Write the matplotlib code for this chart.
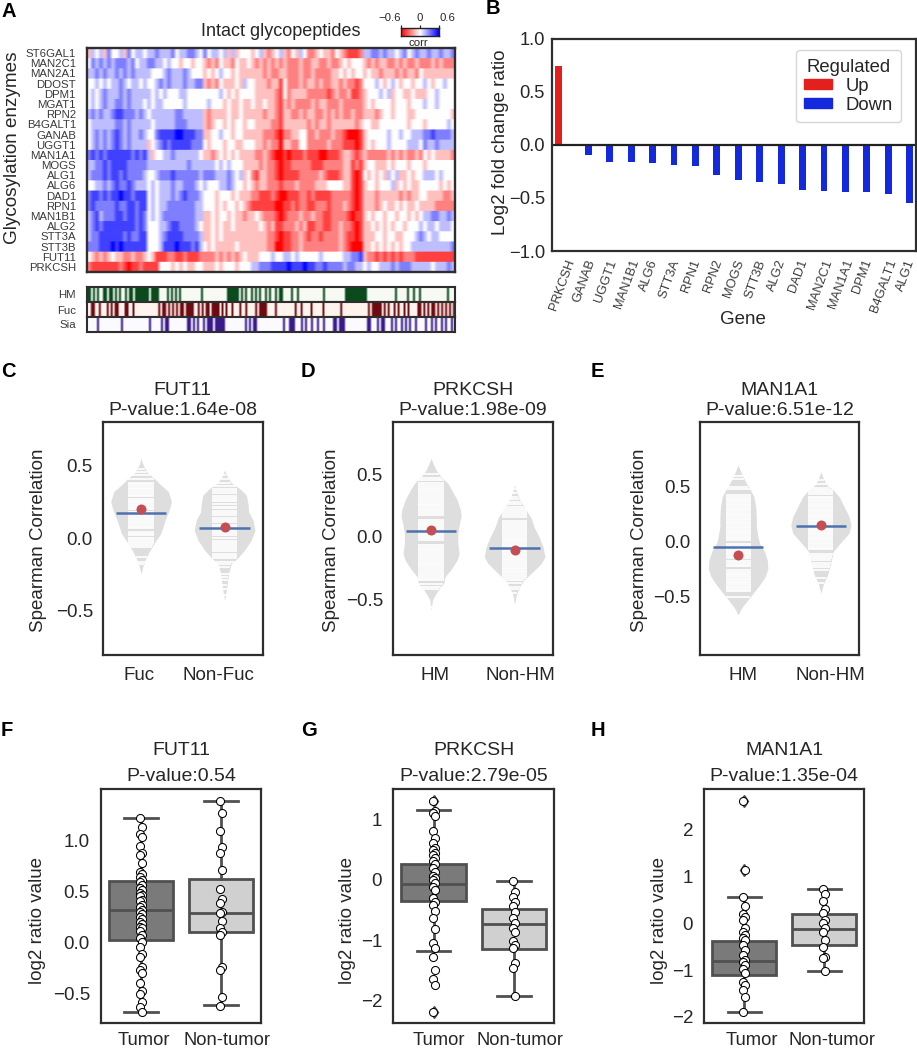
#!/usr/bin/python3
"""
Module to redraw the glycosylation enzyme figure: heatmap, bar chart,
violin panels and box panels.
"""
import numpy as np
import matplotlib
matplotlib.use('Agg')
import matplotlib.pyplot as plt
from matplotlib.colors import LinearSegmentedColormap
from matplotlib.patches import Patch

W, H = 917, 1050
plt.rcParams['font.family'] = ['Liberation Sans', 'DejaVu Sans']
plt.rcParams['text.color'] = '#262626'
plt.rcParams['axes.labelcolor'] = '#262626'
plt.rcParams['xtick.color'] = '#262626'
plt.rcParams['ytick.color'] = '#262626'

# Panel A: digit 0 is the strongest blue, 4 white, 8 the strongest red.
# The six groups of each row are the six blocks of columns in the heatmap.
enzymes = ['ST6GAL1', 'MAN2C1', 'MAN2A1', 'DDOST', 'DPM1', 'MGAT1', 'RPN2',
           'B4GALT1', 'GANAB', 'UGGT1', 'MAN1A1', 'MOGS', 'ALG1', 'ALG6',
           'DAD1', 'RPN1', 'MAN1B1', 'ALG2', 'STT3A', 'STT3B', 'FUT11',
           'PRKCSH']
block_sizes = [15, 14, 12, 23, 5, 23]
heat_rows = [
    '534352443524334 33233324332234 243343535444 54356543564534665455645 67776 33223233432432332332332',
    '423232322232433 22334344544544 565645564554 56565656566656655665665 45444 56565566565665666565666',
    '332323323232333 34443233323444 545434454555 55565665566656656666554 54544 54556555656556455555555',
    '443434332343343 44323233323322 565645554534 45556557466656556566556 56676 44434543454454434544344',
    '434323332323333 34343444334444 444434545444 45555567465555666667656 65776 54443435445545554434444',
    '434323322323334 34334444434444 434445455455 45545567565666656556665 66666 54544445444544434434444',
    '323233211222323 43333332233333 565555455455 55565567556656556656565 66566 55565445444554444444445',
    '433333322323333 34333332223333 565445454454 45555667555555656556555 55565 44554444444544454444434',
    '432323212323323 44211110011122 554434454455 55566678665544665666566 78887 54444434434433322122223',
    '432323212323333 54321211111222 454445445544 45565668556644666665666 77787 54544434444333423323333',
    '212121111112121 35443323333334 556545454555 56656788787776777887776 55676 56666656565665645455556',
    '332212111122222 33333333332333 333434344455 55656678776666677766666 55767 54455545444544454444444',
    '322212112122223 44322212222223 222333234354 67556678777766666567776 55787 45454534355454433343444',
    '443323212212333 43433323322234 344433234454 56556667666566665554444 55787 54454443545455444445454',
    '211212110112111 43433323212223 444544454555 66777678877766767777666 66787 55565555565655445555665',
    '212222212211211 43433222222233 444545445456 77777788776766776667666 56787 55565455454554555566666',
    '321322211211212 43432222222233 554544545565 54566678766656656677666 67877 54544544544545433223323',
    '321211111111212 44433211222234 554545545555 55456577666565776677665 66787 55454545445444343343334',
    '322111111212211 44432111122223 554545555555 55556678776656766766665 67787 55544544554443234334444',
    '222111010111111 44431110111213 454555554555 55556688776656666666665 67888 55454545454433333333332',
    '456565455665665 45777667767776 666565656545 55444344334344444344444 33221 56676767676667777777777',
    '677777776787767 77744454545544 555454445444 33222111101110112212222 32233 43443332322233333433323',
]

# Panel A tracks: 1 is a dark stripe, 0 the pale background, 2 px per column.
hm_flags = ('11010100110110101001011' '0' '1111111' '0' '1111' '0000' '1010101'
            '0000000000' '1' '000000000000' '111111' '0101001010100101001011'
            '0000100100000000000010000000000' '11111111111'
            '00000000000000100000100100100000000000001000')
fuc_flags = ('001100100010101100011001' '000000000000' '101101010101'
             '10111100' '1010110' '111' '10101'
             '0010001001' '0000' '10' '1111' '0000' '1' '000000000' '1' '00'
             '1' '0000' '1' '00000' '1' '00000000' '1' '000000000000'
             '0101' '111' '1010' '100101001010000' '1101' '0' '10110'
             '101010101')
sia_flags = ('00000100000000000100000000000001' '00000' '1011' '000000000'
             '11' '0' '1' '0' '1' '00' '1' '0' '111011111' '0000000000'
             '1010110' '000000000000' '1' '00' '111' '000' '1' '0' '1' '00'
             '1' '00' '1' '00' '1' '0000' '110111' '00000000000' '110' '00'
             '10110' '00' '1010010101001' '0000' '100101001010010')

# Panel B
bar_genes = ['PRKCSH', 'GANAB', 'UGGT1', 'MAN1B1', 'ALG6', 'STT3A', 'RPN1',
             'RPN2', 'MOGS', 'STT3B', 'ALG2', 'DAD1', 'MAN2C1', 'MAN1A1',
             'DPM1', 'B4GALT1', 'ALG1']
bar_values = [0.74, -0.10, -0.16, -0.16, -0.17, -0.19, -0.20, -0.285, -0.335,
              -0.35, -0.365, -0.425, -0.435, -0.44, -0.445, -0.465, -0.545]

# Panel C violins: density outline as value and half width
c1_vals = [.557, .518, .483, .449, .414, .380, .322, .253, .195, .126, .034,
           -.035, -.093, -.15, -.196, -.247]
c1_width = [0, .016, .048, .084, .16, .216, .328, .364, .336, .288, .236,
            .156, .096, .048, .02, 0]
c1_sticks = [.48, .46, .44, .41, .385, .375, .36, .35, .34, .325, .31, .30,
             .29, .275, .26, .25, .24, .225, .21, .20, .185, .17, .16, .15,
             .135, .12, .105, .09, .08, .07, .045, .03, .02, .005, -.005,
             -.015, -.03, -.045, -.06, -.13, -.16, -.18]
c2_vals = [.472, .426, .380, .345, .299, .241, .184, .126, .057, -.012, -.081,
           -.139, -.173, -.242, -.335, -.427]
c2_width = [0, .032, .088, .18, .26, .28, .288, .34, .364, .32, .24, .152,
            .08, .048, .028, 0]
c2_sticks = [.44, .41, .385, .36, .34, .325, .31, .295, .28, .265, .255, .235,
             .22, .21, .19, .175, .16, .14, .125, .11, .095, .08, .065, .05,
             .035, .02, 0, -.015, -.03, -.045, -.06, -.075, -.09, -.105, -.12,
             -.135, -.16, -.18, -.2, -.245, -.265, -.29, -.32, -.35, -.39]

# Panel D violins
d1_vals = [.627, .587, .534, .48, .427, .374, .294, .214, .16, .107, .027,
           -.053, -.133, -.186, -.253, -.32, -.373, -.413, -.466, -.506, -.586]
d1_width = [0, .024, .06, .12, .2, .248, .312, .352, .36, .34, .32, .32, .336,
            .312, .248, .168, .152, .1, .048, .016, 0]
d1_sticks = [.50, .47, .45, .43, .415, .40, .385, .37, .355, .34, .325, .31,
             .295, .28, .265, .25, .235, .22, .205, .19, .175, .135, .12, .105,
             .09, .075, .06, .045, .03, .015, 0, -.01, -.025, -.065, -.08,
             -.095, -.11, -.125, -.14, -.155, -.17, -.185, -.2, -.215, -.23,
             -.245, -.26, -.275, -.29, -.305, -.32, -.335, -.35, -.38, -.40,
             -.42, -.56, -.575]
d2_vals = [.414, .36, .307, .254, .20, .147, .08, 0, -.08, -.16, -.213, -.28,
           -.346, -.40, -.466, -.546]
d2_width = [0, .024, .052, .1, .152, .2, .232, .292, .34, .364, .32, .22, .112,
            .06, .02, 0]
d2_sticks = [.38, .35, .32, .30, .28, .26, .24, .22, .205, .19, .17, .155,
             .125, .11, .095, .08, .06, .045, .03, .015, 0, -.015, -.03, -.045,
             -.06, -.075, -.09, -.105, -.115, -.13, -.145, -.16, -.175, -.19,
             -.205, -.22, -.235, -.25, -.26, -.275, -.285, -.30, -.315, -.33,
             -.345, -.37, -.40, -.42, -.45]

# Panel E violins
e1_vals = [.697, .651, .591, .53, .47, .409, .318, .227, .136, .045, -.015,
           -.091, -.167, -.243, -.318, -.394, -.47, -.546, -.606, -.667]
e1_width = [0, .024, .06, .1, .148, .192, .212, .22, .22, .24, .26, .32, .352,
            .36, .328, .26, .18, .1, .04, 0]
e1_sticks = [.60, .57, .50, .48, .42, .405, .39, .375, .36, .345, .33, .315,
             .30, .285, .27, .255, .24, .225, .21, .195, .18, .165, .15, .135,
             .12, .105, .09, .075, .06, .045, .03, .015, -.025, -.04, -.055,
             -.07, -.085, -.10, -.115, -.13, -.145, -.18, -.195, -.21, -.225,
             -.26, -.275, -.29, -.305, -.32, -.335, -.35, -.365, -.38, -.395,
             -.41, -.425, -.44, -.45, -.50]
e2_vals = [.636, .576, .515, .47, .409, .318, .227, .151, .076, 0, -.091,
           -.152, -.227, -.303, -.379, -.47]
e2_width = [0, .028, .072, .148, .22, .28, .34, .364, .34, .248, .148, .132,
            .108, .08, .032, 0]
e2_sticks = [.56, .52, .49, .47, .45, .43, .41, .395, .38, .365, .35, .335,
             .32, .305, .29, .275, .26, .245, .23, .215, .20, .185, .17, .155,
             .14, .125, .11, .095, .08, .065, .05, .035, .02, .005, -.01,
             -.025, -.04, -.055, -.07, -.11, -.13, -.15, -.17, -.19, -.21,
             -.23, -.26, -.33, -.38]

# Median and mean of every violin pair
c_medians, c_means = [.177, .073], [.20, .08]
d_medians, d_means = [.045, -.093], [.056, -.109]
e_medians, e_means = [-.049, .139], [-.121, .154]

# Panels F, G, H: whisker low, Q1, median, Q3, whisker high
f_tumor_box = [-.68, .02, .316, .60, 1.22]
f_normal_box = [-.617, .104, .29, .62, 1.383]
f_tumor_pts = [1.22, 1.13, 1.06, 1.03, .94, .87, .85, .78, .69, .665, .64, .61,
               .59, .56, .53, .51, .48, .46, .45, .41, .40, .365, .35, .32,
               .30, .28, .25, .225, .20, .175, .15, .14, .11, .07, .04, .006,
               -.05, -.11, -.14, -.24, -.27, -.30, -.395, -.48, -.51, -.58,
               -.63, -.68]
f_normal_pts = [1.38, 1.27, 1.09, .93, .87, .71, .525, .42, .38, .30, .29, .21,
                .14, .10, .07, -.24, -.27, -.535, -.62]

g_tumor_box = [-1.17, -.35, -.06, .26, 1.15]
g_normal_box = [-1.92, -1.135, -.72, -.48, -.01]
g_tumor_fliers = [1.31, -2.18]
g_tumor_pts = [1.31, 1.14, 1.10, 1.05, .815, .70, .606, .534, .496, .45, .413,
               .37, .31, .26, .19, .126, .07, .03, 0, -.055, -.11, -.165, -.30,
               -.36, -.41, -.52, -.63, -.816, -1.05, -1.13, -1.27, -1.49,
               -1.63, -1.74, -2.18]
g_normal_pts = [-.011, -.204, -.287, -.37, -.425, -.524, -.634, -.717, -.80,
                -.854, -1.01, -1.075, -1.13, -1.38, -1.45, -1.92]

h_tumor_box = [-1.90, -1.10, -.81, -.37, .556]
h_normal_box = [-1.02, -.457, -.12, .20, .735]
h_tumor_fliers = [2.62, 1.135]
h_tumor_pts = [2.62, 1.135, .556, .37, .19, .13, .07, -.11, -.18, -.25, -.32,
               -.36, -.47, -.57, -.68, -.785, -.82, -.90, -.98, -1.07, -1.25,
               -1.32, -1.43, -1.57, -1.90]
h_normal_pts = [.735, .628, .478, .307, .214, .07, 0, -.107, -.179, -.357,
                -.50, -.714, -.75, -1.02]


def add_axes(fig, left, top, right, bottom):
    """Make axes from pixel edges, measured from the top left corner."""
    return fig.add_axes([left / W, 1 - bottom / H,
                         (right - left) / W, (bottom - top) / H])


def frame(ax, lw=1.6):
    """Dark border on all four sides, no tick marks."""
    for spine in ax.spines.values():
        spine.set_linewidth(lw)
        spine.set_color('#2e2e2e')
    ax.tick_params(length=0)


def place_ylabel(ax, text, x_px, y_px, size=13.5):
    """Y label with its centre at a pixel position."""
    pos = ax.get_position()
    ax.set_ylabel(text, fontsize=size, va='center')
    ax.yaxis.set_label_coords((x_px / W - pos.x0) / pos.width,
                              ((1 - y_px / H) - pos.y0) / pos.height)


def heatmap_values():
    """Turn the digit rows into correlation values."""
    rows = []
    for row in heat_rows:
        digits = ''
        for block, size in zip(row.split(), block_sizes):
            digits += block.ljust(size, block[-1])[:size]
        rows.append([(4 - int(d)) * 0.15 for d in digits])
    return np.array(rows)


def draw_heatmap(fig):
    """Panel A with its three annotation tracks and colour key."""
    cmap = LinearSegmentedColormap.from_list('corr', ['#ff0000', '#ffffff', '#0000ff'])
    ax = add_axes(fig, 87, 48, 455, 272)
    # rows are repeated so that the smoothing only softens the column stripes
    values = np.repeat(heatmap_values(), 10, axis=0)
    ax.imshow(values, cmap=cmap, vmin=-0.6, vmax=0.6, aspect='auto',
              interpolation='bilinear', extent=[0, values.shape[1], len(enzymes), 0])
    frame(ax, 1.7)
    ax.set_xticks([])
    ax.set_yticks(np.arange(len(enzymes)) + 0.5, enzymes, fontsize=8.2, color='#3a3a3a')
    ax.tick_params(axis='y', pad=8)
    place_ylabel(ax, 'Glycosylation enzymes', 13, 148, size=13.6)
    fig.text(281 / W, 1 - 32 / H, 'Intact glycopeptides', fontsize=13,
             ha='center', va='center')

    tracks = [('HM', hm_flags, '#f6faf2', '#0a4a1d', 287, 302),
              ('Fuc', fuc_flags, '#fff3ee', '#6d0a12', 302, 317),
              ('Sia', sia_flags, '#fbfaff', '#3a1a8a', 317, 332)]
    for name, flags, pale, dark, top, bottom in tracks:
        tax = add_axes(fig, 87, top, 455, bottom)
        track_cmap = LinearSegmentedColormap.from_list(name, [pale, dark])
        tax.imshow([[int(f) for f in flags]], cmap=track_cmap, vmin=0, vmax=1,
                   aspect='auto', interpolation='bilinear')
        frame(tax, 1.5)
        tax.set_xticks([])
        tax.set_yticks([0], [name], fontsize=8.2, color='#3a3a3a')
        tax.tick_params(axis='y', pad=8)

    key = add_axes(fig, 401, 28, 439, 36)
    key.imshow([np.linspace(-0.6, 0.6, 100)], cmap=cmap, aspect='auto',
               extent=[-0.6, 0.6, 0, 1])
    key.set_yticks([])
    key.xaxis.tick_top()
    key.set_xticks([-0.6, 0, 0.6], ['\u22120.6', '0', '0.6'], fontsize=8.2)
    key.tick_params(axis='x', length=2.5, width=0.9, pad=1)
    key.get_xticklabels()[0].set_ha('right')
    key.get_xticklabels()[2].set_ha('left')
    for spine in key.spines.values():
        spine.set_linewidth(1)
        spine.set_color('#222222')
    fig.text(418 / W, 1 - 43 / H, 'corr', fontsize=8.2, ha='center', va='center')


def draw_bars(fig):
    """Panel B: one hue dodged bar per gene."""
    ax = add_axes(fig, 552, 38.5, 916, 251)
    positions = np.arange(len(bar_genes))
    up = np.array(bar_values) > 0
    ax.bar(positions[up] - 0.2, np.array(bar_values)[up], 0.32, color='#e4201f')
    ax.bar(positions[~up] + 0.2, np.array(bar_values)[~up], 0.32, color='#1428dc')
    ax.axhline(0, color='#222222', lw=1.6)
    ax.set_xlim(-0.5, 16.5)
    ax.set_ylim(-1, 1)
    frame(ax)
    ax.set_yticks([-1, -0.5, 0, 0.5, 1])
    ax.tick_params(axis='y', labelsize=13.2, pad=5)
    ax.set_xticks(positions, bar_genes, rotation=70, fontsize=9.3, color='#3a3a3a')
    ax.tick_params(axis='x', pad=5)
    ax.set_xlabel('Gene', fontsize=13.5, va='center')
    ax.xaxis.set_label_coords((743 - 552) / 364, -(320 - 251) / 212.5)
    place_ylabel(ax, 'Log2 fold change ratio', 501, 142)
    handles = [Patch(color='#e4201f', label='Up'), Patch(color='#1428dc', label='Down')]
    ax.legend(handles=handles, title='Regulated', loc='upper right',
              bbox_to_anchor=(0.96, 0.945), borderaxespad=0, fontsize=13.3,
              title_fontsize=13.3, handlelength=1.5, handleheight=0.45,
              handletextpad=0.75, labelspacing=0.12, borderpad=0.45)


def draw_violin(ax, pos, vals, width, sticks, median, mean):
    """Gray density shape, white sticks, a median bar and a mean dot."""
    vals = np.array(vals)
    width = np.array(width)
    ax.fill_betweenx(vals, pos - width, pos + width, color='#dedede', lw=0)
    for value in sticks:
        half = min(np.interp(value, vals[::-1], width[::-1]), 0.152)
        ax.hlines(value, pos - half, pos + half, color='#fdfdfd', lw=1.3)
    ax.hlines(median, pos - 0.302, pos + 0.302, color='#4c72b0', lw=1.8, zorder=3)
    ax.plot(pos, mean, 'o', color='#c44e52', ms=7.2, mew=0, zorder=4)


def violin_panel(fig, edges, title, ylim, labels, label_x, label_px, shapes,
                 medians, means):
    """One of the panels C, D and E."""
    ax = add_axes(fig, edges[0], 421.7, edges[1], 655)
    for i, shape in enumerate(shapes):
        draw_violin(ax, i, shape[0], shape[1], shape[2], medians[i], means[i])
    ax.set_xlim(-0.46, 1.46)
    ax.set_ylim(ylim)
    frame(ax)
    ax.set_yticks([-0.5, 0, 0.5])
    ax.set_xticks(label_x, labels)
    ax.tick_params(labelsize=13.5)
    ax.tick_params(axis='y', pad=7)
    ax.tick_params(axis='x', pad=9)
    ax.set_title(title, fontsize=14, linespacing=1.2, pad=5)
    place_ylabel(ax, 'Spearman Correlation', label_px, 540)


def box_panel(fig, edges, title, ylim, yticks, label_x, label_px, boxes, points,
              fliers):
    """One of the panels F, G and H."""
    ax = add_axes(fig, edges[0], 789, edges[1], 1023.3)
    stats = []
    for i, box in enumerate(boxes):
        stats.append({'whislo': box[0], 'q1': box[1], 'med': box[2], 'q3': box[3],
                      'whishi': box[4], 'fliers': fliers[i]})
    line = {'color': '#505050', 'linewidth': 2.0}
    art = ax.bxp(stats, positions=[0, 1], widths=0.8, capwidths=0.42,
                 patch_artist=True, boxprops={'edgecolor': '#505050', 'linewidth': 2.0},
                 medianprops=line, whiskerprops=line, capprops=line,
                 flierprops={'marker': 'd', 'mfc': '#505050', 'mec': '#505050', 'ms': 6})
    art['boxes'][0].set_facecolor('#7a7a7a')
    art['boxes'][1].set_facecolor('#d0d0d0')
    for i, values in enumerate(points):
        nudge = 0.012 * np.where(np.arange(len(values)) % 2, 1, -1)
        ax.plot(i + nudge, values, 'o', mfc='white', mec='black', ms=5.8, mew=0.75,
                ls='none', zorder=5)
    ax.set_xlim(-0.5, 1.5)
    ax.set_ylim(ylim)
    frame(ax)
    ax.set_yticks(yticks)
    ax.set_xticks(label_x, ['Tumor', 'Non-tumor'])
    ax.tick_params(labelsize=13.5)
    ax.tick_params(axis='y', pad=8)
    ax.tick_params(axis='x', labelsize=13.2, pad=6)
    ax.set_title(title, fontsize=14, linespacing=1.7, pad=5.5)
    place_ylabel(ax, 'log2 ratio value', label_px, 921)


def main():
    fig = plt.figure(figsize=(W / 100, H / 100), dpi=100)
    draw_heatmap(fig)
    draw_bars(fig)

    violin_panel(fig, (102.7, 263), 'FUT11\nP-value:1.64e-08', (-0.806, 0.806),
                 ['Fuc', 'Non-Fuc'], [-0.02, 0.93], 39,
                 [(c1_vals, c1_width, c1_sticks), (c2_vals, c2_width, c2_sticks)],
                 c_medians, c_means)
    violin_panel(fig, (392.7, 553), 'PRKCSH\nP-value:1.98e-09', (-0.946, 0.92),
                 ['HM', 'Non-HM'], [0.05, 1.07], 331,
                 [(d1_vals, d1_width, d1_sticks), (d2_vals, d2_width, d2_sticks)],
                 d_medians, d_means)
    violin_panel(fig, (700, 859), 'MAN1A1\nP-value:6.51e-12', (-1.03, 1.09),
                 ['HM', 'Non-HM'], [0.06, 1.11], 639,
                 [(e1_vals, e1_width, e1_sticks), (e2_vals, e2_width, e2_sticks)],
                 e_medians, e_means)

    box_panel(fig, (101, 261.3), 'FUT11\nP-value:0.54', (-0.793, 1.50),
              [-0.5, 0, 0.5, 1.0], [0.04, 1.07], 38,
              [f_tumor_box, f_normal_box], [f_tumor_pts, f_normal_pts], [[], []])
    box_panel(fig, (393.3, 554.3), 'PRKCSH\nP-value:2.79e-05', (-2.37, 1.504),
              [-2, -1, 0, 1], [0.06, 1.08], 347,
              [g_tumor_box, g_normal_box], [g_tumor_pts, g_normal_pts],
              [g_tumor_fliers, []])
    box_panel(fig, (704.3, 864.3), 'MAN1A1\nP-value:1.35e-04', (-2.14, 2.876),
              [-2, -1, 0, 1, 2], [0.09, 1.1], 660,
              [h_tumor_box, h_normal_box], [h_tumor_pts, h_normal_pts],
              [h_tumor_fliers, []])

    letters = [('A', 1, 17), ('B', 486, 14), ('C', 1, 377), ('D', 301, 377),
               ('E', 591, 377), ('F', 1, 736), ('G', 301, 736), ('H', 591, 736)]
    for letter, x, y in letters:
        fig.text(x / W, 1 - y / H, letter, fontsize=14.5, fontweight='bold',
                 color='black', ha='left', va='baseline')

    fig.savefig('out.png', dpi=100)


if __name__ == '__main__':
    main()
